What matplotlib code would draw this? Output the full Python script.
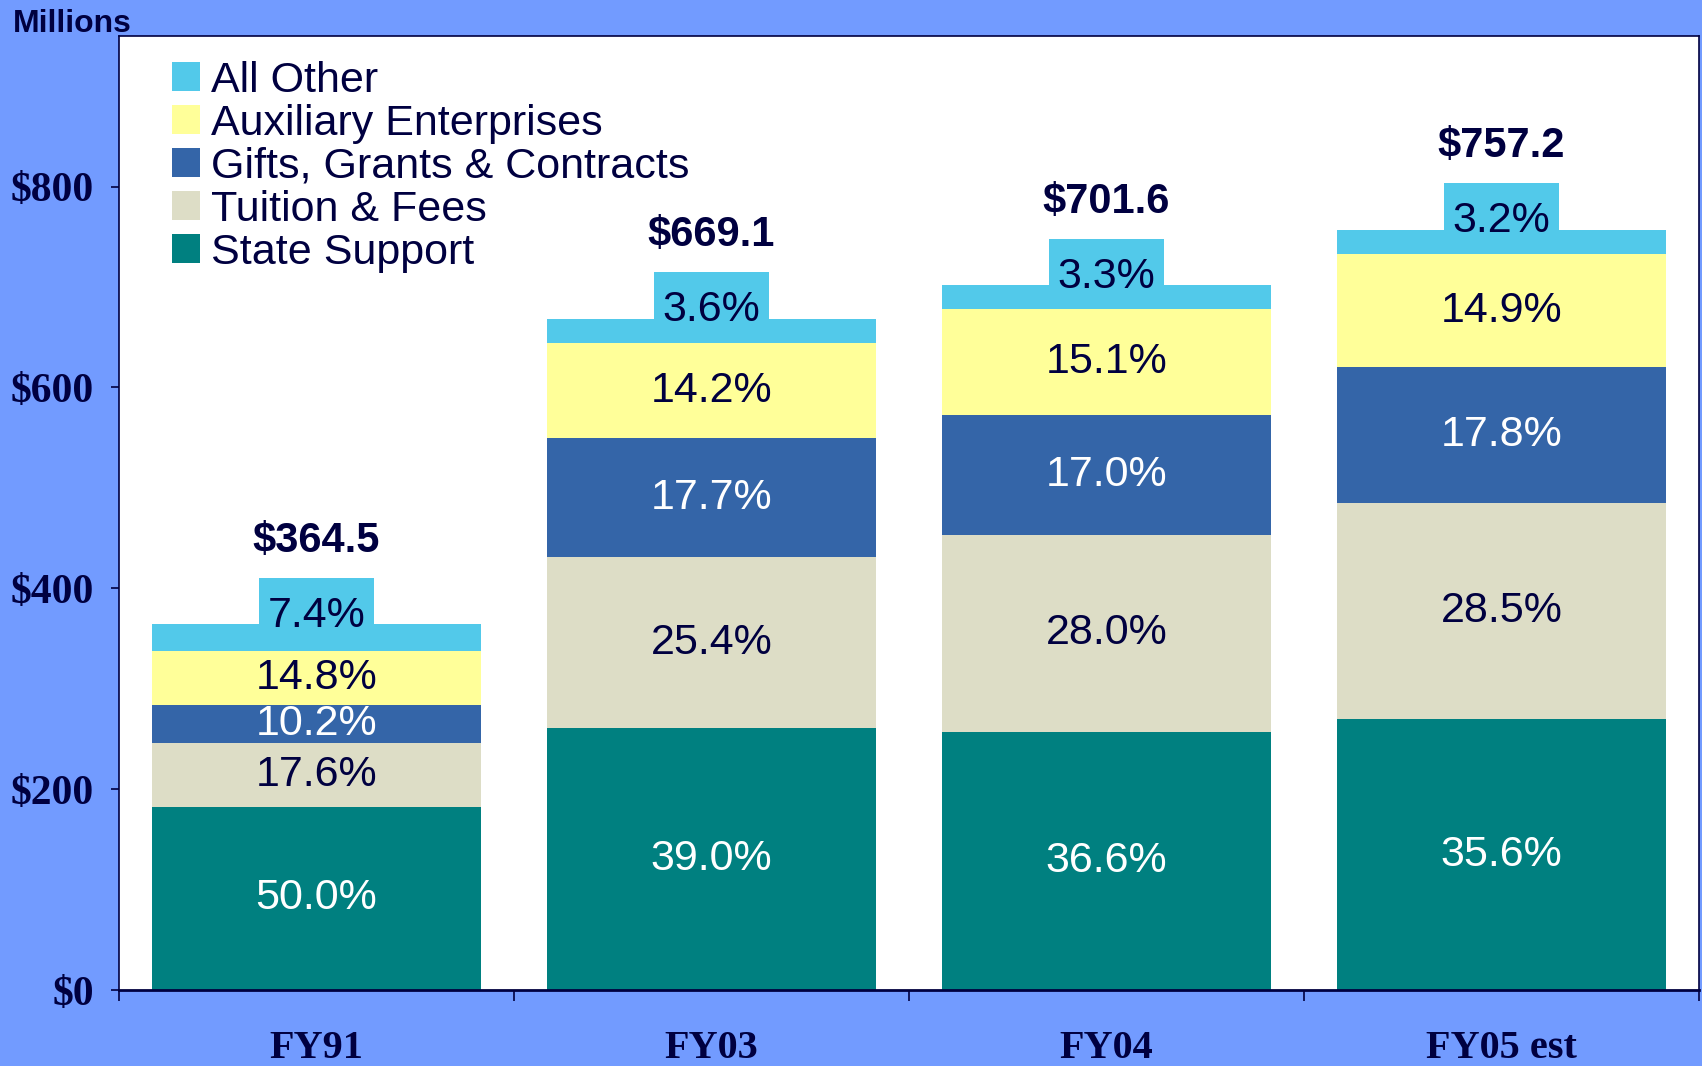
import matplotlib.pyplot as plt
from matplotlib.patches import Patch
from matplotlib.path import Path

years = ['FY91', 'FY03', 'FY04', 'FY05 est']
totals = [364.5, 669.1, 701.6, 757.2]

# share of total, in percent, bottom to top
state_pct = [50.0, 39.0, 36.6, 35.6]
tuition_pct = [17.6, 25.4, 28.0, 28.5]
gifts_pct = [10.2, 17.7, 17.0, 17.8]
aux_pct = [14.8, 14.2, 15.1, 14.9]
other_pct = [7.4, 3.6, 3.3, 3.2]

series = [
    ('State Support', state_pct, '#008080', 'white'),
    ('Tuition & Fees', tuition_pct, '#DDDDC6', '#000040'),
    ('Gifts, Grants & Contracts', gifts_pct, '#3465A8', 'white'),
    ('Auxiliary Enterprises', aux_pct, '#FFFF99', '#000040'),
    ('All Other', other_pct, '#52C9EA', '#000040'),
]

navy = '#000040'
bg = '#729BFF'
sans = ['Liberation Sans', 'DejaVu Sans']
serif = ['Liberation Serif', 'DejaVu Serif']


def tab_box(x0, y0, width, height, mutation_size):
    # box with extra room above the text, like the tabs on the original
    px = 0.2 * mutation_size
    top = 0.42 * mutation_size
    bot = 0.2 * mutation_size
    x1, y1 = x0 - px, y0 - bot
    x2, y2 = x0 + width + px, y0 + height + top
    return Path([(x1, y1), (x2, y1), (x2, y2), (x1, y2), (x1, y1)], closed=True)


fig = plt.figure(figsize=(17.02, 10.66), dpi=100, facecolor=bg)
ax = fig.add_axes([119 / 1702, 1 - 990 / 1066, 1580 / 1702, 954 / 1066])
ax.set_facecolor('white')

x = list(range(len(years)))
bottom = [0.0] * len(years)
for name, pct, color, tcolor in series:
    vals = [t * p / 100 for t, p in zip(totals, pct)]
    ax.bar(x, vals, width=0.833, bottom=bottom, color=color, label=name, zorder=2)
    for i, (v, b, p) in enumerate(zip(vals, bottom, pct)):
        if name == 'All Other':
            ax.annotate(f'{p:.1f}%', (i, b + v), xytext=(0, 6), textcoords='offset points',
                        ha='center', va='center', fontsize=31, color=tcolor, family=sans,
                        bbox=dict(boxstyle=tab_box, fc=color, ec='none'), zorder=3)
        else:
            ax.text(i, b + v / 2, f'{p:.1f}%', ha='center', va='center',
                    fontsize=31, color=tcolor, family=sans, zorder=3)
    bottom = [b + v for b, v in zip(bottom, vals)]

for i, t in enumerate(totals):
    ax.annotate(f'${t:.1f}', (i, t), xytext=(0, 60), textcoords='offset points',
                ha='center', va='center', fontsize=30, fontweight='bold',
                color=navy, family=sans, zorder=3)

ax.set_xlim(-0.5, 3.5)
ax.set_ylim(0, 950)
ax.set_yticks([0, 200, 400, 600, 800])
ax.set_yticklabels(['$0', '$200', '$400', '$600', '$800'])
ax.tick_params(axis='y', direction='out', length=6, width=1.2, color=navy,
               labelcolor=navy, labelsize=30, pad=12)
for lab in ax.get_yticklabels():
    lab.set_family(serif)
    lab.set_fontweight('bold')

ax.set_xticks([-0.5, 0.5, 1.5, 2.5, 3.5])
ax.set_xticklabels([])
ax.set_xticks(x, minor=True)
ax.set_xticklabels(years, minor=True)
ax.tick_params(axis='x', which='major', direction='out', length=8, width=1.2, color=navy)
ax.tick_params(axis='x', which='minor', length=0, labelcolor=navy, labelsize=29, pad=29)
for lab in ax.get_xticklabels(minor=True):
    lab.set_family(serif)
    lab.set_fontweight('bold')

for side in ['left', 'top', 'right']:
    ax.spines[side].set_color(navy)
    ax.spines[side].set_linewidth(1.2)
ax.spines['bottom'].set_color(navy)
ax.spines['bottom'].set_linewidth(2)

handles = [Patch(facecolor=c, edgecolor='none', label=n) for n, _, c, _ in reversed(series)]
leg = ax.legend(handles=handles, loc='upper left', bbox_to_anchor=(0.0335, 0.974),
                frameon=False, borderpad=0, borderaxespad=0, handlelength=0.65,
                handleheight=0.65, handletextpad=0.25, labelspacing=0.07,
                prop={'family': sans, 'size': 31})
for t in leg.get_texts():
    t.set_color(navy)

fig.text(13 / 1702, 1 - 24 / 1066, 'Millions', ha='left', va='center', fontsize=23,
         fontweight='bold', color=navy, family=sans)

fig.savefig('out.png', dpi=100, facecolor=bg)
